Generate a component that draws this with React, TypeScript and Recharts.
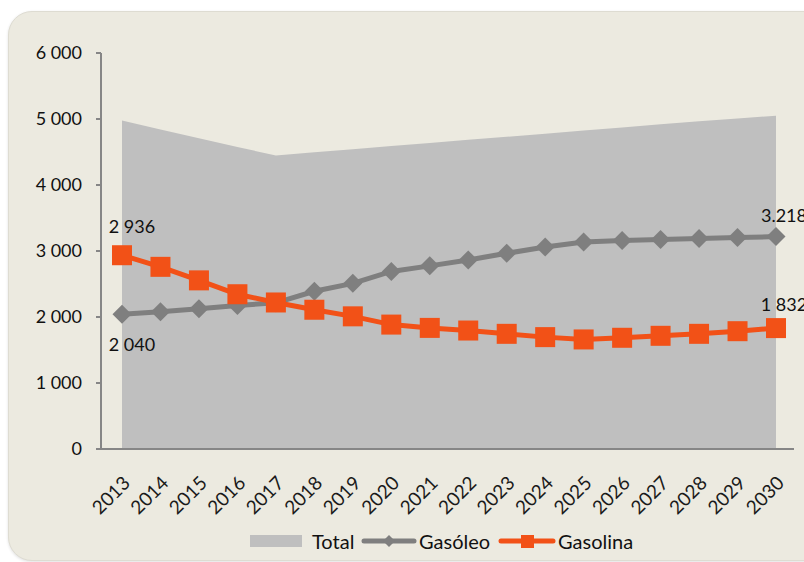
import React from 'react';
import { ComposedChart, Area, Line, XAxis, YAxis, LabelList } from 'recharts';

const years = [
  '2013', '2014', '2015', '2016', '2017', '2018', '2019', '2020', '2021',
  '2022', '2023', '2024', '2025', '2026', '2027', '2028', '2029', '2030',
];
const total = [
  4976, 4842, 4709, 4576, 4448, 4495, 4542, 4590, 4637,
  4684, 4731, 4778, 4825, 4872, 4919, 4966, 5008, 5050,
];
const gasoleo = [
  2040, 2080, 2125, 2175, 2215, 2390, 2510, 2690, 2775,
  2865, 2965, 3060, 3135, 3160, 3175, 3190, 3205, 3218,
];
const gasolina = [
  2936, 2760, 2555, 2345, 2220, 2110, 2010, 1885, 1835,
  1795, 1745, 1695, 1660, 1685, 1715, 1745, 1785, 1832,
];
const yTicks = [0, 1000, 2000, 3000, 4000, 5000, 6000];

const data = years.map((year, i) => ({
  year,
  total: total[i],
  gasoleo: gasoleo[i],
  gasolina: gasolina[i],
}));

const FONT = 'Lato, "DejaVu Sans", sans-serif';
const BG = '#ECEAE0';
const AREA = '#BFBFBF';
const GREY = '#7F7F7F';
const ORANGE = '#F25117';
const AXIS = '#868686';

const spaced = (v: number) => String(v).replace(/\B(?=(\d{3})+(?!\d))/g, ' ');
const dotted = (v: number) => String(v).replace(/\B(?=(\d{3})+(?!\d))/g, '.');

function DiamondDot(props: any) {
  const { cx, cy } = props;
  const r = 9.5;
  return (
    <polygon
      points={`${cx},${cy - r} ${cx + r},${cy} ${cx},${cy + r} ${cx - r},${cy}`}
      fill={GREY}
    />
  );
}

function SquareDot(props: any) {
  const { cx, cy } = props;
  return <rect x={cx - 10} y={cy - 10} width={20} height={20} fill={ORANGE} />;
}

function YearTick(props: any) {
  const { x, y, payload } = props;
  const tx = x + 4;
  const ty = y + 22;
  return (
    <text
      x={tx}
      y={ty}
      transform={`rotate(-45 ${tx} ${ty})`}
      textAnchor="end"
      dominantBaseline="central"
      fontFamily={FONT}
      fontSize={19}
      fill="#1a1a1a"
    >
      {payload.value}
    </text>
  );
}

// end-point labels: first and last value of each line
function endLabel(dy: { first: number; last: number }, fmtLast: (v: number) => string) {
  return (props: any) => {
    const { x, y, value, index } = props;
    if (index !== 0 && index !== years.length - 1) return null;
    const isFirst = index === 0;
    return (
      <text
        key={`lbl-${index}`}
        x={x + (isFirst ? 10 : 8)}
        y={y + (isFirst ? dy.first : dy.last)}
        textAnchor="middle"
        dominantBaseline="central"
        fontFamily={FONT}
        fontSize={18}
        fill="#111"
      >
        {isFirst ? spaced(value) : fmtLast(value)}
      </text>
    );
  };
}

const legendText: React.CSSProperties = {
  position: 'absolute',
  top: 0,
  height: 24,
  lineHeight: '24px',
  fontFamily: FONT,
  fontSize: 20,
  color: '#111',
  whiteSpace: 'nowrap',
};

function LegendRow() {
  return (
    <div style={{ position: 'absolute', top: 529, left: 0, width: 804, height: 24 }}>
      <svg width={804} height={24} style={{ position: 'absolute', left: 0, top: 0 }}>
        <rect x={250} y={6} width={52} height={12} fill={AREA} />
        <line x1={364} y1={12} x2={414} y2={12} stroke={GREY} strokeWidth={5} strokeLinecap="round" />
        <polygon points="389,6 395,12 389,18 383,12" fill={GREY} />
        <line x1={501} y1={12} x2={553} y2={12} stroke={ORANGE} strokeWidth={5} strokeLinecap="round" />
        <rect x={521} y={6} width={13} height={13} fill={ORANGE} />
      </svg>
      <span style={{ ...legendText, left: 312 }}>Total</span>
      <span style={{ ...legendText, left: 419 }}>Gasóleo</span>
      <span style={{ ...legendText, left: 558 }}>Gasolina</span>
    </div>
  );
}

export default function App() {
  return (
    <div
      style={{
        position: 'fixed',
        left: 0,
        top: 0,
        width: 804,
        height: 562,
        background: '#fff',
        overflow: 'hidden',
      }}
    >
      <div
        style={{
          position: 'absolute',
          left: 8,
          top: 11,
          width: 830,
          height: 548,
          background: BG,
          borderRadius: 24,
          border: '1px solid #DEDCD2',
          boxShadow: '0 1px 3px rgba(0,0,0,0.12)',
        }}
      />
      <div style={{ position: 'absolute', left: 0, top: 0 }}>
        <ComposedChart
          width={804}
          height={562}
          data={data}
          margin={{ top: 53, right: 10, bottom: 53, left: 41 }}
        >
          <XAxis
            dataKey="year"
            interval={0}
            padding={{ left: 21, right: 18 }}
            height={60}
            stroke={AXIS}
            strokeWidth={2}
            tickLine={false}
            tick={<YearTick />}
          />
          <YAxis
            domain={[0, 6000]}
            ticks={yTicks}
            width={60}
            stroke={AXIS}
            strokeWidth={2}
            tickSize={5}
            tickMargin={14}
            tickFormatter={spaced}
            tick={{ fontFamily: FONT, fontSize: 18, fill: '#111' }}
          />
          <Area
            dataKey="total"
            type="linear"
            fill={AREA}
            fillOpacity={1}
            stroke="none"
            isAnimationActive={false}
          />
          <Line
            dataKey="gasoleo"
            type="linear"
            stroke={GREY}
            strokeWidth={5}
            dot={(p: any) => <DiamondDot key={`d-${p.index}`} {...p} />}
            activeDot={false}
            isAnimationActive={false}
          >
            <LabelList dataKey="gasoleo" content={endLabel({ first: 30, last: -22 }, dotted)} />
          </Line>
          <Line
            dataKey="gasolina"
            type="linear"
            stroke={ORANGE}
            strokeWidth={5}
            dot={(p: any) => <SquareDot key={`s-${p.index}`} {...p} />}
            activeDot={false}
            isAnimationActive={false}
          >
            <LabelList dataKey="gasolina" content={endLabel({ first: -29, last: -24 }, spaced)} />
          </Line>
        </ComposedChart>
      </div>
      <LegendRow />
    </div>
  );
}
